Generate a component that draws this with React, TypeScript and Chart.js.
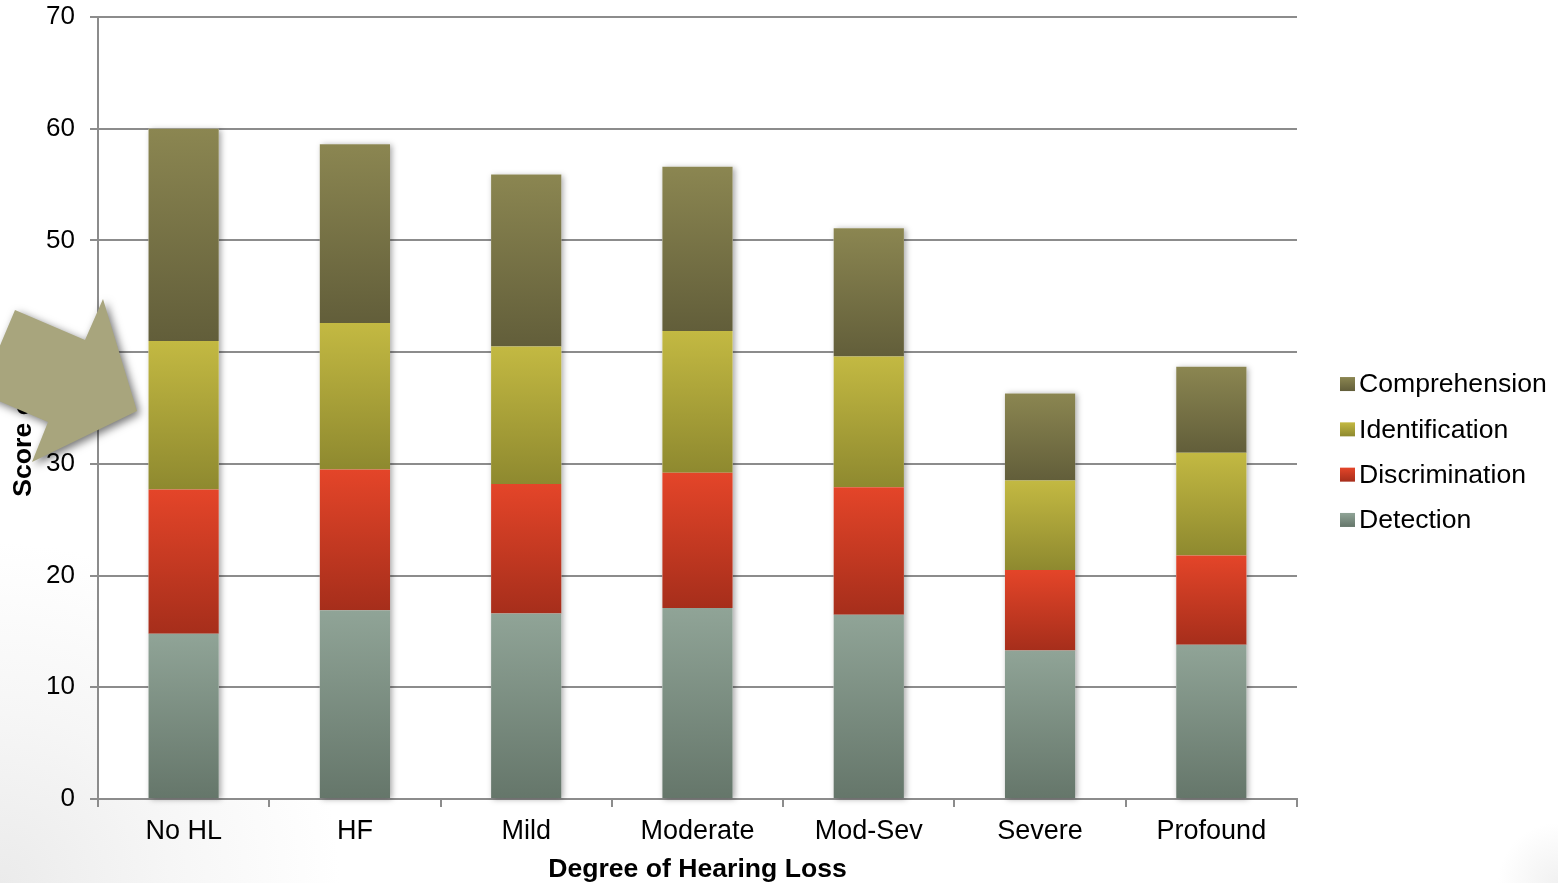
import { useEffect, useRef } from 'react';
import { Chart, registerables } from 'chart.js';

Chart.register(...registerables);

// Degree-of-hearing-loss groups along the x axis
const categories = ['No HL', 'HF', 'Mild', 'Moderate', 'Mod-Sev', 'Severe', 'Profound'];

// Mean score per auditory skill, stacked bottom to top
const detection = [14.8, 16.9, 16.6, 17.1, 16.5, 13.3, 13.8];
const discrimination = [12.9, 12.6, 11.6, 12.1, 11.4, 7.2, 8.0];
const identification = [13.3, 13.1, 12.3, 12.7, 11.7, 8.0, 9.2];
const comprehension = [19.0, 16.0, 15.4, 14.7, 11.5, 7.8, 7.7];

const seriesLabels = ['Detection', 'Discrimination', 'Identification', 'Comprehension'];
const seriesValues = [detection, discrimination, identification, comprehension];

// Top/bottom colours of each segment's vertical gradient
const seriesShades = [
  ['#90a497', '#65766a'],
  ['#e44529', '#a62e1b'],
  ['#c3b942', '#8e892f'],
  ['#8b8651', '#625e3a'],
];

const yTicks = [0, 10, 20, 30, 40, 50, 60, 70];

const FONT = '"Liberation Sans", Arial, Helvetica, sans-serif';

function segmentFill(si: number) {
  return (c: any) => {
    const chart = c.chart;
    const [top, bottom] = seriesShades[si];
    if (c.type !== 'data' || !chart.chartArea || !chart.scales.y) return top;
    const y = chart.scales.y;
    let lo = 0;
    for (let k = 0; k < si; k++) lo += seriesValues[k][c.dataIndex];
    const hi = lo + seriesValues[si][c.dataIndex];
    const g = chart.ctx.createLinearGradient(0, y.getPixelForValue(hi), 0, y.getPixelForValue(lo));
    g.addColorStop(0, top);
    g.addColorStop(1, bottom);
    return g;
  };
}

// White plot background
const plotBackground = {
  id: 'plotBackground',
  beforeDraw(chart: any) {
    const { ctx, chartArea } = chart;
    if (!chartArea) return;
    ctx.save();
    ctx.fillStyle = '#ffffff';
    ctx.fillRect(chartArea.left, chartArea.top, chartArea.right - chartArea.left, chartArea.bottom - chartArea.top);
    ctx.restore();
  },
};

// Soft shadow behind each whole stack
const stackShadow = {
  id: 'stackShadow',
  beforeDatasetsDraw(chart: any) {
    const { ctx } = chart;
    const first = chart.getDatasetMeta(0);
    const last = chart.getDatasetMeta(seriesValues.length - 1);
    ctx.save();
    ctx.shadowColor = 'rgba(0,0,0,0.35)';
    ctx.shadowBlur = 6;
    ctx.shadowOffsetX = 2;
    ctx.shadowOffsetY = 1;
    ctx.fillStyle = '#ffffff';
    first.data.forEach((el: any, i: number) => {
      const b = el.getProps(['x', 'base', 'width'], true);
      const t = last.data[i].getProps(['y'], true);
      ctx.fillRect(b.x - b.width / 2, t.y, b.width, b.base - t.y);
    });
    ctx.restore();
  },
};

// Legend to the right of the plot, top series first
const sideLegend = {
  id: 'sideLegend',
  afterDraw(chart: any) {
    const { ctx, chartArea } = chart;
    const x = chartArea.right + 43;
    const step = 45.3;
    const n = seriesLabels.length;
    const centre = 452;
    ctx.save();
    ctx.font = `26.6px ${FONT}`;
    ctx.textBaseline = 'middle';
    ctx.textAlign = 'left';
    for (let k = 0; k < n; k++) {
      const si = n - 1 - k;
      const cy = centre + (k - (n - 1) / 2) * step;
      const g = ctx.createLinearGradient(0, cy - 7, 0, cy + 7);
      g.addColorStop(0, seriesShades[si][0]);
      g.addColorStop(1, seriesShades[si][1]);
      ctx.fillStyle = g;
      ctx.fillRect(x, cy - 7, 15, 14);
      ctx.fillStyle = '#000000';
      ctx.fillText(seriesLabels[si], x + 19, cy + 1);
    }
    ctx.restore();
  },
};

// Callout arrow laid over the left of the plot
const calloutArrow = {
  id: 'calloutArrow',
  afterDraw(chart: any) {
    const { ctx } = chart;
    const pts = [
      [15, 310],
      [85, 340],
      [103, 299],
      [137, 411],
      [32, 462],
      [48, 422],
      [-20, 393],
    ];
    ctx.save();
    ctx.shadowColor = 'rgba(0,0,0,0.55)';
    ctx.shadowBlur = 8;
    ctx.shadowOffsetX = 3;
    ctx.shadowOffsetY = 3;
    ctx.fillStyle = '#a8a57d';
    ctx.beginPath();
    pts.forEach(([px, py], i) => (i ? ctx.lineTo(px, py) : ctx.moveTo(px, py)));
    ctx.closePath();
    ctx.fill();
    ctx.restore();
  },
};

export default function App() {
  const canvasRef = useRef<HTMLCanvasElement | null>(null);

  useEffect(() => {
    if (!canvasRef.current) return;
    const chart = new Chart(canvasRef.current, {
      type: 'bar',
      data: {
        labels: categories,
        datasets: seriesValues.map((values, si) => ({
          label: seriesLabels[si],
          data: values,
          backgroundColor: segmentFill(si),
          borderWidth: 0,
          barPercentage: 0.41,
          categoryPercentage: 1,
        })),
      },
      options: {
        animation: false,
        responsive: true,
        maintainAspectRatio: false,
        layout: { padding: { top: 17, right: 261, bottom: 0, left: 0 } },
        plugins: {
          legend: { display: false },
          tooltip: { enabled: false },
        },
        scales: {
          x: {
            stacked: true,
            border: { color: '#8c8c8c', width: 2 },
            grid: { drawOnChartArea: false, drawTicks: true, tickLength: 8, color: '#8c8c8c', lineWidth: 2 },
            ticks: { color: '#000', font: { family: FONT, size: 27 }, padding: 8, maxRotation: 0 },
            title: {
              display: true,
              text: 'Degree of Hearing Loss',
              color: '#000',
              font: { family: FONT, size: 26.6, weight: 'bold', lineHeight: 1 },
              padding: { top: 0, bottom: 0 },
            },
            afterFit(scale: any) {
              scale.height = 84;
            },
          },
          y: {
            stacked: true,
            min: 0,
            max: 70,
            border: { color: '#8c8c8c', width: 2 },
            grid: { color: '#8c8c8c', lineWidth: 2, tickLength: 8 },
            afterBuildTicks(scale: any) {
              scale.ticks = yTicks.map((v) => ({ value: v }));
            },
            ticks: { color: '#000', font: { family: FONT, size: 26 }, padding: 15 },
            title: {
              display: true,
              text: 'Score on ASC',
              color: '#000',
              font: { family: FONT, size: 26.6, weight: 'bold', lineHeight: 1 },
              padding: { top: 10, bottom: 0 },
            },
            afterFit(scale: any) {
              scale.width = 98;
              scale.paddingTop = 0;
              scale.paddingBottom = 0;
            },
          },
        },
      },
      plugins: [plotBackground, stackShadow, sideLegend, calloutArrow],
    });
    return () => chart.destroy();
  }, []);

  return (
    <div
      style={{
        position: 'fixed',
        left: 0,
        top: 0,
        width: 1558,
        height: 883,
        background:
          'radial-gradient(circle at 100% 100%, #f1f1f1 0px, rgba(255,255,255,0) 60px), ' +
          'radial-gradient(circle at 0% 100%, #ebebeb 0px, #f6f6f6 170px, #ffffff 340px)',
      }}
    >
      <canvas ref={canvasRef} />
    </div>
  );
}
